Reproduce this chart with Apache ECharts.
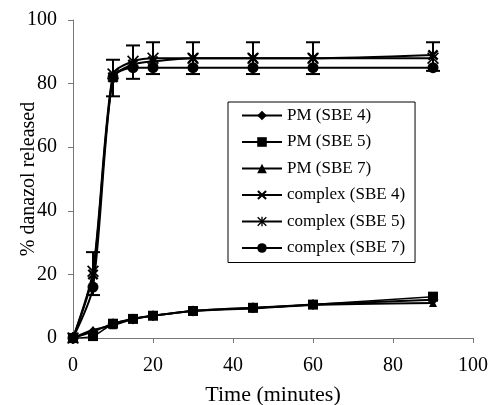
<!DOCTYPE html>
<html>
<head>
<meta charset="utf-8">
<script src="https://cdn.jsdelivr.net/npm/echarts@6/dist/echarts.min.js"></script>
<style>
  html, body { margin: 0; padding: 0; background: #fff; }
  #chart { width: 491px; height: 405px; }
</style>
</head>
<body>
<div id="chart"></div>
<script>
// 时间点 (minutes)
var times = [0, 5, 10, 15, 20, 30, 45, 60, 90];

// PM 系列
var pmSBE4 = [0, 2, 4.5, 6, 7, 8.5, 9.5, 10.5, 12];
var pmSBE5 = [0, 0.6, 4.5, 6, 7, 8.5, 9.5, 10.5, 13];
var pmSBE7 = [0, 2.5, 4, 6, 7, 8.5, 9.3, 10.4, 11];

// complex 系列
var cxSBE4 = [0, 20, 82, 86, 87, 88, 88, 88, 89];
var cxSBE5 = [0, 21, 83, 87, 88, 88, 88, 88, 88];
var cxSBE7 = [0, 16, 82, 85, 85, 85, 85, 85, 85];

// 误差线
var errLow  = [null, 13.5, 76, 81.5, 83, 83, 83, 83, 84];
var errHigh = [null, 27, 87.5, 92, 93, 93, 93, 93, 93];

var crossPath = 'path://M0,1.5 L1.5,0 L5,3.5 L8.5,0 L10,1.5 L6.5,5 L10,8.5 L8.5,10 L5,6.5 L1.5,10 L0,8.5 L3.5,5 Z';
var starPath = 'path://M4.3,0 H5.7 V10 H4.3 Z M0,1 L1,0 L5,4 L9,0 L10,1 L6,5 L10,9 L9,10 L5,6 L1,10 L0,9 L4,5 Z';

var font = '"Liberation Serif", "DejaVu Serif", serif';

function pairs(arr) {
    return times.map(function (t, i) { return [t, arr[i]]; });
}

function makeLine(name, data, symbol, size, width) {
    return {
        name: name,
        type: 'line',
        data: pairs(data),
        symbol: symbol,
        symbolSize: size,
        showAllSymbol: true,
        smooth: 0.25,
        lineStyle: { color: '#000', width: width || 2 },
        itemStyle: { color: '#000', borderColor: '#000', borderWidth: 0 },
        z: 3
    };
}

var errData = times.map(function (t, i) { return [t, errLow[i], errHigh[i]]; })
    .filter(function (d) { return d[1] != null; });

var option = {
    animation: false,
    backgroundColor: '#fff',
    grid: { left: 73, right: 18, top: 20, bottom: 67, containLabel: false, outerBoundsMode: 'none' },
    legend: {
        orient: 'vertical',
        left: 228,
        top: 102,
        width: 187,
        itemWidth: 40,
        itemHeight: 12,
        itemGap: 9.5,
        padding: [5, 10, 6, 13],
        borderColor: '#000',
        borderWidth: 1,
        borderRadius: 0,
        backgroundColor: '#fff',
        textStyle: { fontFamily: font, fontSize: 17, color: '#000' },
        data: ['PM (SBE 4)', 'PM (SBE 5)', 'PM (SBE 7)', 'complex (SBE 4)', 'complex (SBE 5)', 'complex (SBE 7)']
    },
    xAxis: {
        type: 'value',
        min: 0,
        max: 100,
        interval: 20,
        name: 'Time (minutes)',
        nameLocation: 'middle',
        nameGap: 46,
        nameMoveOverlap: false,
        nameTextStyle: { fontFamily: font, fontSize: 22, color: '#000' },
        axisLine: { lineStyle: { color: '#777', width: 1 } },
        axisTick: { lineStyle: { color: '#777' }, length: 5 },
        axisLabel: { fontFamily: font, fontSize: 20, color: '#000', margin: 18 },
        splitLine: { show: false }
    },
    yAxis: {
        type: 'value',
        min: 0,
        max: 100,
        interval: 20,
        name: '% danazol released',
        nameLocation: 'middle',
        nameGap: 34,
        nameMoveOverlap: false,
        nameTextStyle: { fontFamily: font, fontSize: 20, color: '#000' },
        axisLine: { show: true, lineStyle: { color: '#777', width: 1 } },
        axisTick: { show: true, lineStyle: { color: '#777' }, length: 5 },
        axisLabel: { fontFamily: font, fontSize: 20, color: '#000', margin: 16 },
        splitLine: { show: false }
    },
    series: [
        makeLine('PM (SBE 4)', pmSBE4, 'diamond', 11, 2),
        makeLine('PM (SBE 5)', pmSBE5, 'rect', 10, 1.5),
        makeLine('PM (SBE 7)', pmSBE7, 'triangle', 8, 2),
        makeLine('complex (SBE 4)', cxSBE4, crossPath, 11, 2),
        makeLine('complex (SBE 5)', cxSBE5, starPath, 12, 2),
        makeLine('complex (SBE 7)', cxSBE7, 'circle', 11, 2),
        {
            name: 'error',
            type: 'custom',
            data: errData,
            z: 4,
            renderItem: function (params, api) {
                var x = api.value(0);
                var lo = api.coord([x, api.value(1)]);
                var hi = api.coord([x, api.value(2)]);
                var w = 7;
                var st = { stroke: '#000', lineWidth: 2 };
                return {
                    type: 'group',
                    children: [
                        { type: 'line', shape: { x1: lo[0], y1: lo[1], x2: hi[0], y2: hi[1] }, style: st },
                        { type: 'line', shape: { x1: lo[0] - w, y1: lo[1], x2: lo[0] + w, y2: lo[1] }, style: st },
                        { type: 'line', shape: { x1: hi[0] - w, y1: hi[1], x2: hi[0] + w, y2: hi[1] }, style: st }
                    ]
                };
            }
        }
    ]
};

var myChart = echarts.init(document.getElementById('chart'));
myChart.setOption(option);
window.onresize = myChart.resize;
</script>
</body>
</html>
